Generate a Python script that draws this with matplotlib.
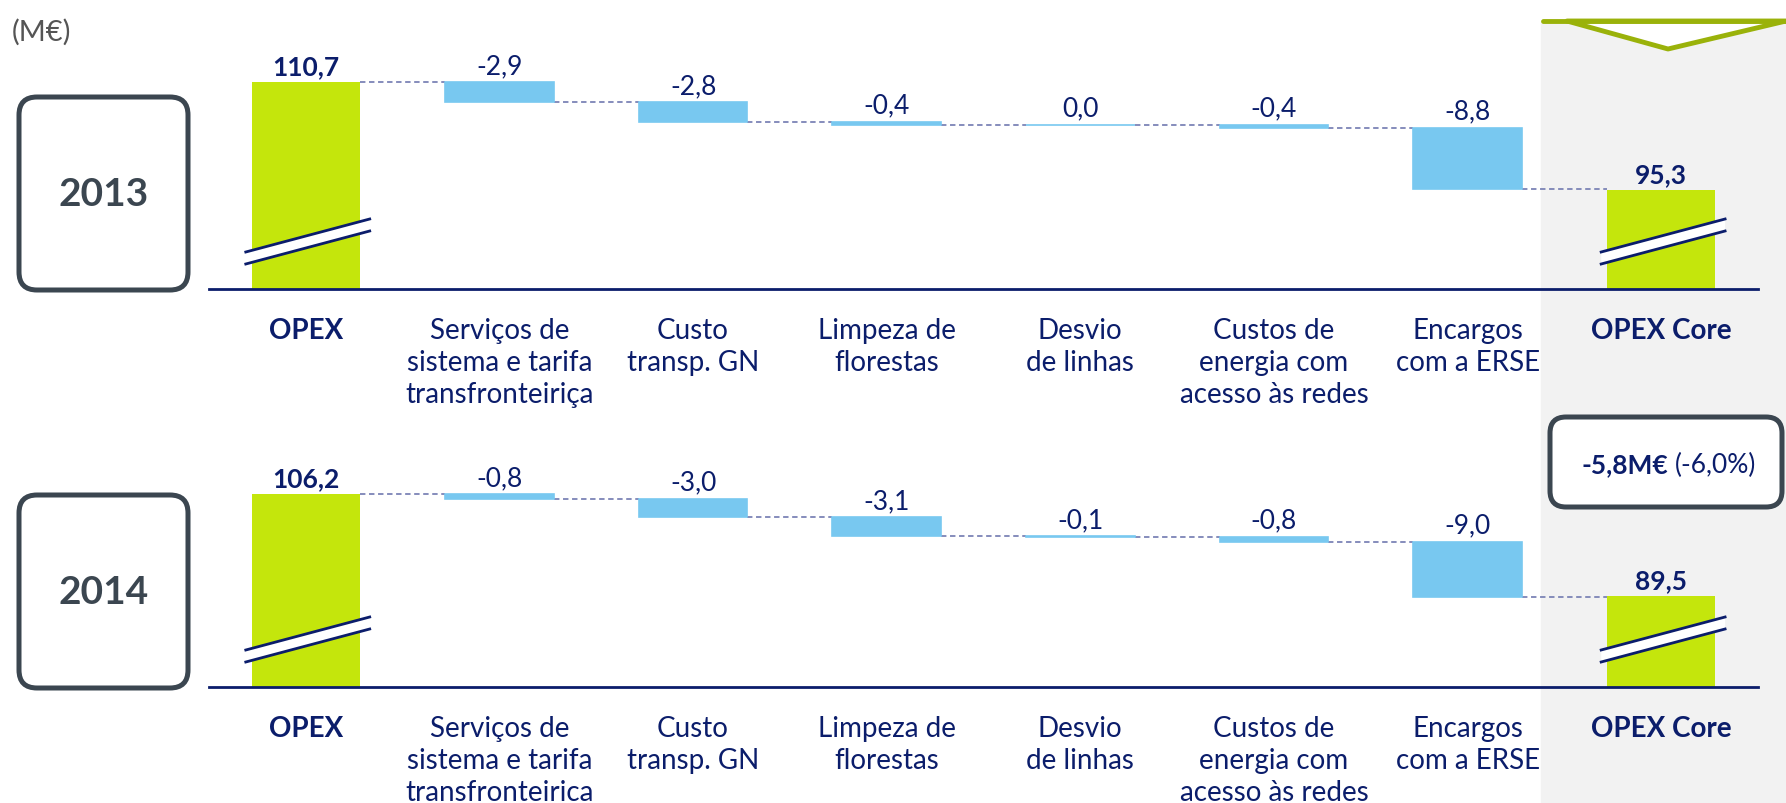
import matplotlib.pyplot as plt
from matplotlib.patches import FancyBboxPatch, Rectangle, Polygon

plt.rcParams['font.family'] = ['Lato', 'DejaVu Sans']

NAVY = '#0b1d6b'
GREEN = '#c4e60c'
BLUE = '#78c8f0'
BOXGREY = '#3b4650'
DASH = '#7c84b6'

labels_2013 = ["OPEX", "Serviços de\nsistema e tarifa\ntransfronteiriça", "Custo\ntransp. GN",
               "Limpeza de\nflorestas", "Desvio\nde linhas", "Custos de\nenergia com\nacesso às redes",
               "Encargos\ncom a ERSE", "OPEX Core"]
labels_2014 = ["OPEX", "Serviços de\nsistema e tarifa\ntransfronteirica", "Custo\ntransp. GN",
               "Limpeza de\nflorestas", "Desvio\nde linhas", "Custos de\nenergia com\nacesso às redes",
               "Encargos\ncom a ERSE", "OPEX Core"]

opex_2013 = 110.7
deltas_2013 = [-2.9, -2.8, -0.4, 0.0, -0.4, -8.8]
core_2013 = 95.3

opex_2014 = 106.2
deltas_2014 = [-0.8, -3.0, -3.1, -0.1, -0.8, -9.0]
core_2014 = 89.5

W, H = 1786, 804
fig = plt.figure(figsize=(W / 100, H / 100), dpi=100)


def fmt(v):
    return f"{v:.1f}".replace(".", ",")


def waterfall(top_px, base_px, start_px, ppu, start, deltas, end, labels):
    ax = fig.add_axes([209 / W, 1 - base_px / H, (1758 - 209) / W, (base_px - top_px) / H])
    ax.set_facecolor('none')
    y0 = start - (base_px - start_px) / ppu
    ax.set_ylim(y0, y0 + (base_px - top_px) / ppu)
    n = len(deltas)
    ax.set_xlim(-0.5, n + 1.5)
    w = 0.56

    # start bar
    ax.bar(0, start - y0, bottom=y0, width=w, color=GREEN, zorder=2)
    ax.annotate(fmt(start), (0, start), xytext=(0, 3), textcoords='offset points',
                ha='center', va='bottom', fontsize=19, fontweight='bold', color=NAVY)
    level = start
    for i, d in enumerate(deltas, start=1):
        ax.plot([i - 1 + w / 2, i - w / 2], [level, level], ls=(0, (3, 2)), color=DASH, lw=1.3, zorder=1)
        ax.bar(i, -d, bottom=level + d, width=w, color=BLUE, edgecolor=BLUE, lw=1.2, zorder=2)
        ax.annotate(fmt(d), (i, level), xytext=(0, 3), textcoords='offset points',
                    ha='center', va='bottom', fontsize=19, color=NAVY)
        level += d
    ax.plot([n + w / 2, n + 1 - w / 2], [level, level], ls=(0, (3, 2)), color=DASH, lw=1.3, zorder=1)
    ax.bar(n + 1, end - y0, bottom=y0, width=w, color=GREEN, zorder=2)
    ax.annotate(fmt(end), (n + 1, end), xytext=(0, 3), textcoords='offset points',
                ha='center', va='bottom', fontsize=19, fontweight='bold', color=NAVY)

    # axis break marks
    for c in (0, n + 1):
        xl, xr = c - 0.31, c + 0.33
        lo = (y0 + 25 / ppu, y0 + 58 / ppu)
        hi = (y0 + 37 / ppu, y0 + 70 / ppu)
        ax.add_patch(Polygon([(xl, lo[0]), (xr, lo[1]), (xr, hi[1]), (xl, hi[0])],
                             closed=True, fc='white', ec='none', zorder=3))
        ax.plot([xl, xr], [lo[0], lo[1]], color=NAVY, lw=2, zorder=4)
        ax.plot([xl, xr], [hi[0], hi[1]], color=NAVY, lw=2, zorder=4)

    for s in ('top', 'right', 'left'):
        ax.spines[s].set_visible(False)
    ax.spines['bottom'].set_color(NAVY)
    ax.spines['bottom'].set_linewidth(2)
    ax.set_yticks([])
    ax.set_xticks(range(n + 2))
    ax.set_xticklabels(labels, fontsize=20, color=NAVY, linespacing=1.28)
    ax.tick_params(axis='x', length=0, pad=20)
    for t in (ax.get_xticklabels()[0], ax.get_xticklabels()[-1]):
        t.set_fontweight('bold')
    return ax


# background decorations
bg = fig.add_axes([0, 0, 1, 1], zorder=-1)
bg.set_xlim(0, W)
bg.set_ylim(H, 0)
bg.axis('off')
bg.add_patch(Rectangle((1541, 22), W - 1541, H - 22, color='#f2f2f2', zorder=0))
bg.add_patch(Polygon([(1567, 22), (1786, 22), (1668, 50)], closed=True,
                     fc='white', ec='#9ab20a', lw=3.5, joinstyle='round', zorder=1))
bg.plot([1543, 1786], [22, 22], color='#9ab20a', lw=3.5, solid_capstyle='round', zorder=2)

bg.text(12, 32, "(M€)", fontsize=21, color='#555555', va='center', ha='left')

for y, year in ((98, "2013"), (496, "2014")):
    bg.add_patch(FancyBboxPatch((19, y), 169, 193, boxstyle="round,pad=0,rounding_size=18",
                                fc='white', ec=BOXGREY, lw=3.6, zorder=2))
    bg.text(104, y + 97, year, fontsize=28, fontweight='bold', color=BOXGREY,
            ha='center', va='center', zorder=3)

bg.add_patch(FancyBboxPatch((1550, 418), 232, 90, boxstyle="round,pad=0,rounding_size=16",
                            fc='white', ec=BOXGREY, lw=3.6, zorder=2))
bg.text(1668, 465, "-5,8M€", fontsize=19, fontweight='bold', color=NAVY, ha='right', va='center', zorder=3)
bg.text(1675, 465, "(-6,0%)", fontsize=19, color=NAVY, ha='left', va='center', zorder=3)

waterfall(30, 290, 83, 7.01, opex_2013, deltas_2013, core_2013, labels_2013)
waterfall(428, 688, 495, 6.12, opex_2014, deltas_2014, core_2014, labels_2014)

fig.savefig("out.png", dpi=100)
